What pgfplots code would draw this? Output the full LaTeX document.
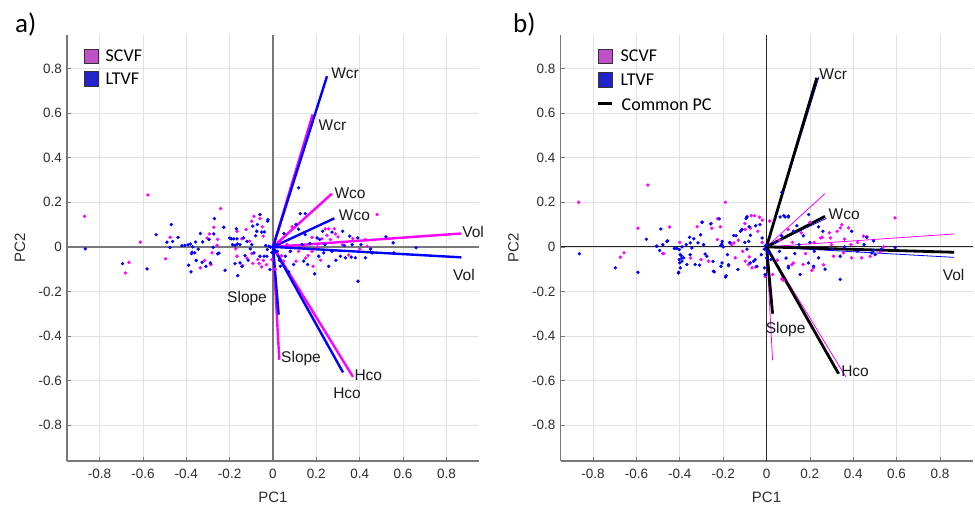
\documentclass[border=0pt]{standalone}
\usepackage{fontspec}
\setmainfont{Liberation Sans}
\newfontfamily\calib{Carlito}
\usepackage{pgfplots}
\usepackage{pgfplotstable}
\pgfplotsset{compat=1.18}
\definecolor{mag}{RGB}{255,0,255}
\definecolor{blu}{RGB}{0,0,255}
\definecolor{patchm}{RGB}{191,80,200}
\definecolor{patchb}{RGB}{35,35,205}
\definecolor{gridc}{RGB}{226,226,226}
\definecolor{axc}{RGB}{120,120,120}
\definecolor{txt}{RGB}{45,45,45}
\definecolor{lbl}{RGB}{25,25,25}

\pgfplotstableread{
x y
-0.869 0.137
-0.577 0.233
-0.612 0.021
-0.664 -0.069
-0.681 -0.117
-0.495 -0.053
-0.474 0.043
-0.335 -0.094
-0.315 -0.061
-0.304 0.040
-0.293 0.058
-0.273 0.088
-0.255 0.034
-0.281 -0.027
-0.286 -0.080
-0.242 0.172
-0.258 0.007
-0.166 0.070
-0.172 -0.009
-0.166 -0.042
-0.144 0.036
-0.140 -0.084
-0.124 0.078
-0.108 0.025
-0.098 0.115
-0.088 0.137
-0.060 0.127
-0.049 0.090
-0.045 0.048
-0.098 -0.030
-0.093 -0.074
-0.070 -0.057
-0.064 -0.075
-0.052 -0.090
-0.044 -0.061
-0.006 -0.057
0.480 0.145
0.088 0.090
0.241 0.081
0.257 0.081
0.283 0.081
0.288 0.058
0.249 0.052
0.180 0.043
0.226 0.036
0.265 0.033
0.368 0.037
0.426 0.033
0.434 0.003
0.349 -0.037
0.185 -0.087
0.162 -0.039
0.180 -0.020
0.106 -0.064
0.065 0.010
0.049 -0.064
0.118 -0.020
0.020 -0.030
0.030 0.020
0.140 0.005
0.320 0.010
0.400 -0.010
0.220 -0.060
0.080 -0.020
-0.120 -0.050
-0.030 -0.080
0.010 -0.100
0.040 -0.040
0.300 0.045
0.205 0.000
0.150 -0.050
}\aSCVF

\pgfplotstableread{
x y
-0.866 -0.009
-0.694 -0.075
-0.581 -0.099
-0.539 0.054
-0.469 0.100
-0.489 0.021
-0.463 0.024
-0.438 0.043
-0.475 -0.003
-0.407 0.007
-0.392 0.009
-0.381 0.013
-0.370 0.000
-0.373 -0.024
-0.376 -0.030
-0.361 -0.027
-0.389 -0.082
-0.378 -0.112
-0.357 0.022
-0.335 0.060
-0.354 -0.061
-0.327 -0.069
-0.309 -0.087
-0.324 0.022
-0.295 0.033
-0.270 0.127
-0.273 0.058
-0.276 -0.002
-0.289 -0.072
-0.255 -0.031
-0.249 -0.028
-0.227 0.088
-0.221 -0.105
-0.192 0.036
-0.181 0.036
-0.169 0.081
-0.166 0.036
-0.187 0.010
-0.175 0.007
-0.164 0.013
-0.152 0.010
-0.175 -0.075
-0.152 -0.072
-0.143 -0.087
-0.163 -0.129
-0.136 0.040
-0.129 -0.039
-0.120 0.025
-0.105 -0.009
-0.098 0.010
-0.093 0.093
-0.075 0.070
-0.060 0.145
-0.072 0.100
-0.052 0.066
-0.040 0.067
-0.025 0.115
-0.088 -0.027
-0.060 -0.042
-0.041 -0.042
-0.034 0.006
-0.019 0.003
-0.011 -0.001
-0.014 -0.102
-0.026 -0.012
-0.023 0.122
-0.028 -0.042
0.118 0.265
0.126 0.149
0.149 0.149
0.106 0.101
0.118 0.079
0.229 0.070
0.272 0.066
0.149 0.055
0.203 0.040
0.215 0.033
0.321 0.070
0.354 0.048
0.391 0.040
0.521 0.045
0.554 0.018
0.660 -0.004
0.406 0.010
0.365 0.010
0.329 0.006
0.557 -0.027
0.272 -0.020
0.311 -0.042
0.334 -0.049
0.361 -0.046
0.380 -0.049
0.426 -0.049
0.457 -0.027
0.392 -0.154
0.192 -0.121
0.257 -0.087
0.160 -0.079
0.142 -0.064
0.211 -0.042
0.234 -0.027
0.095 -0.079
0.080 -0.020
0.057 -0.042
0.072 -0.112
0.034 -0.087
0.134 0.010
0.005 -0.015
0.010 0.010
-0.005 -0.025
-0.420 0.005
-0.345 -0.010
-0.200 0.040
-0.115 -0.060
-0.080 0.050
0.020 -0.020
0.030 -0.060
0.170 0.015
0.290 -0.060
0.450 -0.010
0.240 0.010
0.050 0.060
}\aLTVF

\pgfplotstableread{
x y
-0.866 0.200
-0.547 0.277
-0.593 0.084
-0.657 -0.027
-0.674 -0.046
-0.447 0.089
-0.474 -0.030
-0.478 -0.030
-0.255 0.105
-0.252 0.084
-0.226 0.127
-0.227 0.033
-0.213 0.090
-0.190 0.200
-0.302 -0.057
-0.267 -0.064
-0.144 -0.049
-0.098 -0.064
-0.083 -0.079
-0.067 -0.094
-0.006 -0.132
-0.150 0.018
-0.100 0.105
-0.098 0.078
-0.074 0.084
-0.070 0.140
-0.055 0.140
-0.032 0.133
-0.020 0.120
-0.040 0.070
0.015 0.116
-0.020 0.020
-0.110 -0.020
-0.080 -0.045
-0.050 -0.090
0.028 -0.124
0.071 -0.144
0.078 -0.150
0.117 -0.080
0.124 -0.072
0.169 -0.079
0.209 -0.106
0.217 -0.094
0.263 -0.080
0.309 -0.042
0.355 -0.027
0.393 -0.049
0.439 -0.049
0.478 -0.042
0.524 -0.024
0.463 0.045
0.593 0.130
0.347 0.100
0.378 0.085
0.340 0.085
0.326 0.070
0.295 0.040
0.257 0.043
0.290 0.063
0.200 0.110
0.100 0.078
0.160 0.063
0.250 0.040
0.447 0.048
0.360 0.035
0.120 0.020
0.060 0.030
0.180 -0.030
0.050 -0.060
0.300 0.010
0.420 0.020
0.220 0.020
0.390 0.010
0.540 0.000
-0.350 -0.050
-0.400 0.020
-0.320 0.090
-0.160 0.010
-0.130 0.030
}\bSCVF

\pgfplotstableread{
x y
-0.863 -0.031
-0.697 -0.094
-0.593 -0.114
-0.554 0.034
-0.487 0.080
-0.456 0.027
-0.508 0.003
-0.505 0.003
-0.478 0.010
-0.459 0.025
-0.493 -0.016
-0.425 -0.007
-0.420 -0.005
-0.413 -0.007
-0.402 -0.012
-0.390 0.000
-0.393 -0.039
-0.382 -0.049
-0.402 -0.057
-0.398 -0.035
-0.390 -0.050
-0.400 -0.072
-0.405 -0.114
-0.367 -0.079
-0.352 -0.035
-0.344 -0.005
-0.355 0.043
-0.329 -0.079
-0.309 -0.082
-0.298 0.110
-0.290 0.010
-0.283 -0.032
-0.257 0.103
-0.241 -0.112
-0.247 -0.065
-0.210 -0.087
-0.206 0.013
-0.186 -0.129
-0.175 -0.084
-0.180 -0.035
-0.168 0.018
-0.152 0.051
-0.094 0.127
-0.113 0.078
-0.082 0.025
-0.074 0.052
-0.060 -0.065
-0.044 -0.087
-0.006 -0.124
-0.370 0.010
-0.352 0.018
-0.335 0.036
-0.316 0.018
-0.304 0.054
-0.296 0.111
-0.398 -0.094
-0.406 -0.117
-0.390 -0.064
-0.275 -0.042
-0.245 -0.109
-0.218 0.126
-0.204 0.025
-0.210 0.006
-0.200 0.000
-0.189 -0.135
-0.175 -0.080
-0.205 -0.072
-0.132 -0.101
-0.075 -0.072
-0.052 -0.057
-0.024 -0.035
-0.009 -0.094
-0.170 0.020
-0.140 0.050
-0.120 0.070
-0.100 0.020
-0.090 -0.010
-0.080 0.090
-0.090 0.135
-0.050 0.095
-0.030 0.100
-0.020 0.040
-0.010 -0.010
0.000 0.010
0.021 -0.057
0.063 0.134
0.086 0.134
0.101 0.134
0.124 0.070
0.101 -0.094
0.217 -0.087
0.462 0.043
0.493 -0.015
0.101 -0.087
0.155 -0.124
0.193 -0.072
0.240 -0.049
0.340 -0.146
0.340 -0.042
0.501 -0.035
0.486 -0.027
0.494 0.026
0.593 -0.004
0.194 0.145
0.101 0.138
0.071 0.245
0.080 0.140
0.140 0.095
0.200 0.020
0.260 0.070
0.393 0.070
0.300 -0.010
0.220 -0.020
0.130 -0.030
0.060 -0.020
0.040 0.020
0.170 0.050
0.420 -0.020
0.360 0.000
0.270 -0.100
0.090 -0.050
0.240 0.090
0.450 0.010
0.530 -0.010
0.150 0.010
0.070 0.050
0.005 -0.020
-0.005 0.005
0.010 -0.030
0.000 -0.050
}\bLTVF

\tikzset{
  vlbl/.style={anchor=west, inner sep=0pt, text=lbl, font=\fontsize{15.5bp}{17bp}\selectfont},
}
\pgfplotsset{
  pcabase/.style={
    scale only axis, width=412bp, height=426bp,
    xmin=-0.95, xmax=0.95, ymin=-0.96, ymax=0.95,
    axis lines=left, axis line style={-, axc, line width=1.1bp},
    xtick={-0.8,-0.6,-0.4,-0.2,0,0.2,0.4,0.6,0.8},
    ytick={-0.8,-0.6,-0.4,-0.2,0,0.2,0.4,0.6,0.8},
    grid=major, grid style={gridc, line width=0.7bp},
    tick align=inside, major tick length=4bp,
    tick style={axc, line width=0.7bp},
    ticklabel style={font=\fontsize{13.5bp}{15bp}\selectfont, text=txt},
    xticklabel style={yshift=-5bp},
    yticklabel style={xshift=-1.5bp},
    /pgf/number format/assume math mode=true,
    /pgf/number format/fixed,
    xlabel={PC1}, ylabel={PC2},
    label style={font=\fontsize{15bp}{17bp}\selectfont, text=txt},
    xlabel style={at={(axis description cs:0.5,-0.0845)}, anchor=center},
    ylabel style={at={(axis description cs:-0.114,0.5)}, anchor=center},
    clip=false,
  },
  ptsm/.style={only marks, mark=*, mark size=1.5bp, mag, mark options={draw=none, fill=mag}},
  ptsb/.style={only marks, mark=*, mark size=1.5bp, blu, mark options={draw=none, fill=blu}},
}

\begin{document}
\begin{tikzpicture}
\useasboundingbox (0,0) rectangle (975bp,505bp);

% ---------- panel a ----------
\begin{axis}[pcabase, at={(67bp,44bp)}, anchor=south west]
\draw[axc, line width=1.3bp] (axis cs:-0.95,0) -- (axis cs:0.95,0);
\draw[axc, line width=1.3bp] (axis cs:0,-0.96) -- (axis cs:0,0.95);
\addplot[ptsm] table {\aSCVF};
\addplot[ptsb] table {\aLTVF};
% SCVF vectors
\addplot[mag, line width=2.4bp] coordinates {(0,0) (0.183,0.594)};
\addplot[mag, line width=2.4bp] coordinates {(0,0) (0.272,0.239)};
\addplot[mag, line width=2.4bp] coordinates {(0,0) (0.869,0.060)};
\addplot[mag, line width=2.4bp] coordinates {(0,0) (0.369,-0.583)};
\addplot[mag, line width=2.4bp] coordinates {(0,0) (0.029,-0.506)};
% LTVF vectors
\addplot[blu, line width=2.4bp] coordinates {(0,0) (0.249,0.765)};
\addplot[blu, line width=2.4bp] coordinates {(0,0) (0.283,0.128)};
\addplot[blu, line width=2.4bp] coordinates {(0,0) (0.869,-0.047)};
\addplot[blu, line width=2.4bp] coordinates {(0,0) (0.323,-0.563)};
\addplot[blu, line width=2.4bp] coordinates {(0,0) (0.026,-0.304)};
\node[vlbl] at (axis cs:0.268,0.778) {Wcr};
\node[vlbl] at (axis cs:0.210,0.546) {Wcr};
\node[vlbl] at (axis cs:0.283,0.242) {Wco};
\node[vlbl] at (axis cs:0.303,0.142) {Wco};
\node[vlbl] at (axis cs:0.872,0.067) {Vol};
\node[vlbl] at (axis cs:0.830,-0.127) {Vol};
\node[vlbl] at (axis cs:-0.212,-0.232) {Slope};
\node[vlbl] at (axis cs:0.037,-0.501) {Slope};
\node[vlbl] at (axis cs:0.375,-0.574) {Hco};
\node[vlbl] at (axis cs:0.277,-0.658) {Hco};
\end{axis}

% ---------- panel b ----------
\begin{axis}[pcabase, at={(560.5bp,44bp)}, anchor=south west]
\draw[black!85, line width=0.9bp] (axis cs:-0.95,0) -- (axis cs:0.95,0);
\draw[black!85, line width=0.9bp] (axis cs:0,-0.96) -- (axis cs:0,0.95);
\addplot[ptsm] table {\bSCVF};
\addplot[ptsb] table {\bLTVF};
% SCVF vectors (thin)
\addplot[mag, line width=0.8bp] coordinates {(0,0) (0.235,0.750)};
\addplot[mag, line width=0.8bp] coordinates {(0,0) (0.270,0.239)};
\addplot[mag, line width=0.8bp] coordinates {(0,0) (0.865,0.058)};
\addplot[mag, line width=0.8bp] coordinates {(0,0) (0.366,-0.583)};
\addplot[mag, line width=0.8bp] coordinates {(0,0) (0.028,-0.509)};
% LTVF vectors (thin)
\addplot[blu, line width=0.8bp] coordinates {(0,0) (0.242,0.763)};
\addplot[blu, line width=0.8bp] coordinates {(0,0) (0.276,0.128)};
\addplot[blu, line width=0.8bp] coordinates {(0,0) (0.865,-0.047)};
\addplot[blu, line width=0.8bp] coordinates {(0,0) (0.336,-0.570)};
\addplot[blu, line width=0.8bp] coordinates {(0,0) (0.030,-0.302)};
% Common PC
\addplot[black, line width=2.8bp] coordinates {(0,0) (0.232,0.758)};
\addplot[black, line width=2.8bp] coordinates {(0,0) (0.270,0.137)};
\addplot[black, line width=2.8bp] coordinates {(0,0) (0.865,-0.024)};
\addplot[black, line width=2.8bp] coordinates {(0,0) (0.332,-0.568)};
\addplot[black, line width=2.8bp] coordinates {(0,0) (0.028,-0.299)};
\node[vlbl] at (axis cs:0.243,0.773) {Wcr};
\node[vlbl] at (axis cs:0.286,0.145) {Wco};
\node[vlbl] at (axis cs:0.812,-0.127) {Vol};
\node[vlbl] at (axis cs:-0.004,-0.371) {Slope};
\node[vlbl] at (axis cs:0.344,-0.558) {Hco};
\end{axis}

% ---------- panel letters ----------
\node[anchor=base west, inner sep=0pt, font=\calib\fontsize{27bp}{30bp}\selectfont] at (15bp,472bp) {a)};
\node[anchor=base west, inner sep=0pt, font=\calib\fontsize{27bp}{30bp}\selectfont] at (513bp,472bp) {b)};

% ---------- legends ----------
\filldraw[fill=patchm, draw=black!80, line width=0.6bp] (84bp,442bp) rectangle (98bp,456bp);
\filldraw[fill=patchb, draw=black!80, line width=0.6bp] (84bp,419bp) rectangle (98bp,434bp);
\node[anchor=west, inner sep=0pt, font=\calib\fontsize{18bp}{20bp}\selectfont] at (105.5bp,449bp) {SCVF};
\node[anchor=west, inner sep=0pt, font=\calib\fontsize{18bp}{20bp}\selectfont] at (105.5bp,426.5bp) {LTVF};

\filldraw[fill=patchm, draw=black!80, line width=0.6bp] (598bp,442bp) rectangle (612bp,456bp);
\filldraw[fill=patchb, draw=black!80, line width=0.6bp] (598bp,418bp) rectangle (612bp,433bp);
\fill[black] (598bp,399.5bp) rectangle (612bp,403bp);
\node[anchor=west, inner sep=0pt, font=\calib\fontsize{18bp}{20bp}\selectfont] at (620.5bp,449bp) {SCVF};
\node[anchor=west, inner sep=0pt, font=\calib\fontsize{18bp}{20bp}\selectfont] at (620.5bp,425.5bp) {LTVF};
\node[anchor=west, inner sep=0pt, font=\calib\fontsize{18bp}{20bp}\selectfont] at (621.5bp,400bp) {Common PC};
\end{tikzpicture}
\end{document}
